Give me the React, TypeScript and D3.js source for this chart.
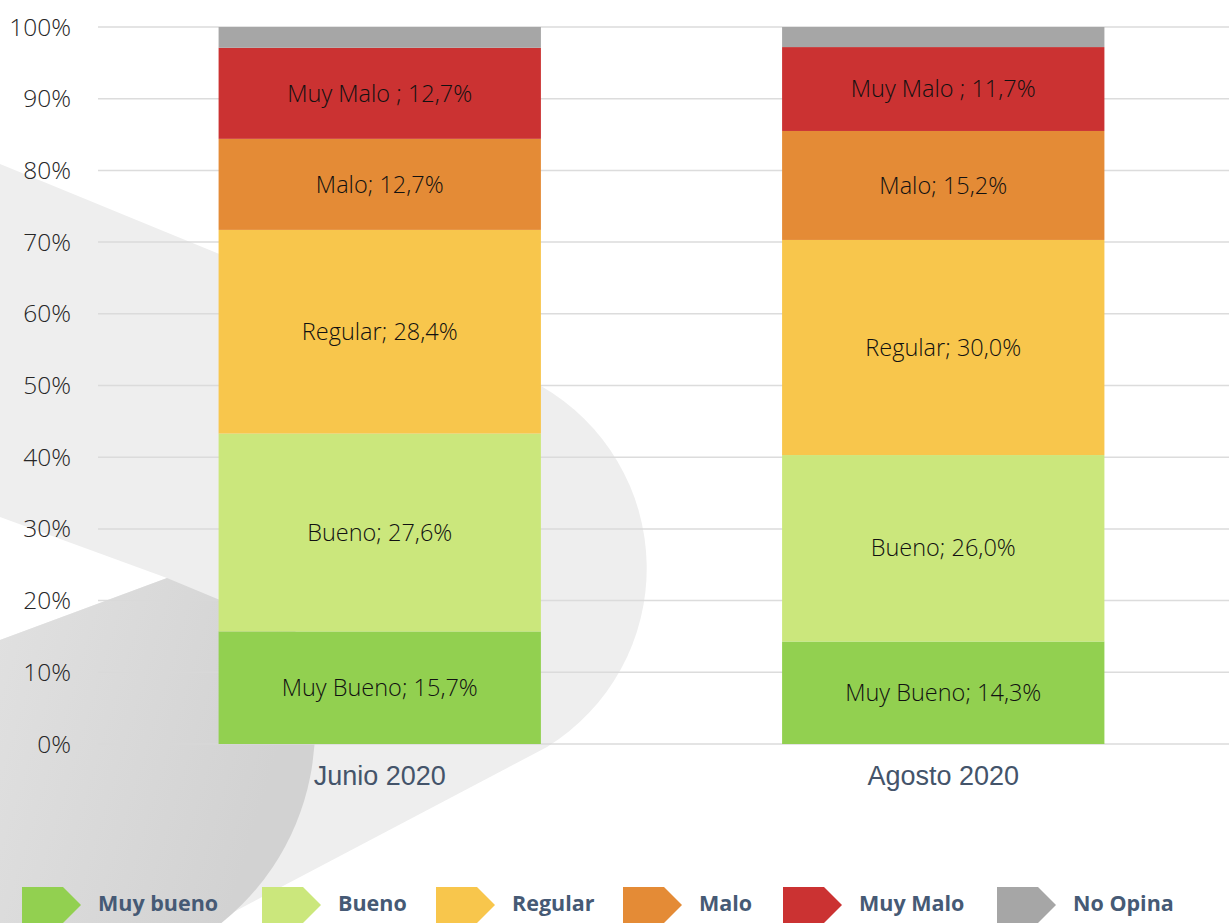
import React from "react";
import * as d3 from "d3";

const categories = ["Junio 2020", "Agosto 2020"];
const seriesKeys = ["muyBueno", "bueno", "regular", "malo", "muyMalo", "noOpina"];
const segmentNames = ["Muy Bueno; ", "Bueno; ", "Regular; ", "Malo; ", "Muy Malo ; ", ""];
const legendLabels = ["Muy bueno", "Bueno", "Regular", "Malo", "Muy Malo", "No Opina"];
const muyBueno = [15.7, 14.3];
const bueno = [27.6, 26.0];
const regular = [28.4, 30.0];
const malo = [12.7, 15.2];
const muyMalo = [12.7, 11.7];
const noOpina = [2.9, 2.8];
const yTicks = [0, 10, 20, 30, 40, 50, 60, 70, 80, 90, 100];

const colors = ["#92d050", "#cbe77c", "#f8c64c", "#e48b36", "#cb3232", "#a6a6a6"];
const legendX = [22, 262, 436, 623, 783, 997];

const W = 1229;
const H = 923;

export default function App() {
  const rows = categories.map((c, i) => ({
    cat: c,
    muyBueno: muyBueno[i],
    bueno: bueno[i],
    regular: regular[i],
    malo: malo[i],
    muyMalo: muyMalo[i],
    noOpina: noOpina[i],
  }));
  const stacked = d3.stack<any>().keys(seriesKeys)(rows);

  const x = d3.scaleBand().domain(categories).range([98, 1225]).paddingInner(0.428).paddingOuter(0.214);
  const y = d3.scaleLinear().domain([0, 100]).range([744, 27]);
  const fmt = (v: number) => v.toFixed(1).replace(".", ",") + "%";

  // background watermark shapes
  const light = "M0,164 L541,386 A210,210 0 0 1 547,747 L0,1035 Z";
  const wedge = "M0,517 L167,578 L0,640 Z";
  const darkCx = 65, darkCy = 728, darkR = 250;

  return (
    <svg width={W} height={H} style={{ position: "fixed", left: 0, top: 0, background: "#fff" }}>
      <defs>
        <linearGradient id="dg" x1="0" y1="0" x2="1" y2="0.3">
          <stop offset="0" stopColor="#eaeaea" />
          <stop offset="1" stopColor="#d2d2d2" />
        </linearGradient>
        <clipPath id="dclip">
          <path d="M0,640 L167,578 L420,683 L420,923 L0,923 Z" />
        </clipPath>
      </defs>
      <rect x={0} y={0} width={W} height={H} fill="#fff" />
      <path d={light} fill="#eeeeee" />
      <path d={wedge} fill="#ffffff" />
      <circle cx={darkCx} cy={darkCy} r={darkR} fill="url(#dg)" clipPath="url(#dclip)" />

      {/* gridlines */}
      {yTicks.map((t) => (
        <line key={t} x1={98} x2={1229} y1={y(t)} y2={y(t)} stroke="#d9d9d9" strokeWidth={1.5} opacity={0.9} />
      ))}
      {yTicks.map((t) => (
        <text
          key={"l" + t}
          x={71}
          y={y(t)}
          dy="0.35em"
          textAnchor="end"
          fontFamily="'Open Sans', sans-serif"
          fontWeight={300}
          fontSize={24.5}
          fill="#262626"
        >
          {t + "%"}
        </text>
      ))}

      {/* bars */}
      {stacked.map((s, si) => (
        <g key={s.key}>
          {s.map((d: any, i: number) => {
            const x0 = x(categories[i])!;
            const yTop = y(d[1]);
            const yBot = y(d[0]);
            return (
              <g key={i}>
                <rect x={x0} y={yTop} width={x.bandwidth()} height={yBot - yTop} fill={colors[si]} />
                {segmentNames[si] && (
                  <text
                    x={x0 + x.bandwidth() / 2}
                    y={(yTop + yBot) / 2}
                    dy="0.35em"
                    textAnchor="middle"
                    fontFamily="'Open Sans', sans-serif"
                    fontWeight={300}
                    fontSize={23.5}
                    fill="#111"
                  >
                    {segmentNames[si] + fmt(d[1] - d[0])}
                  </text>
                )}
              </g>
            );
          })}
        </g>
      ))}

      {/* category labels */}
      {categories.map((c) => (
        <text
          key={c}
          x={x(c)! + x.bandwidth() / 2}
          y={776}
          dy="0.35em"
          textAnchor="middle"
          fontFamily="'Liberation Sans', Arial, sans-serif"
          fontSize={27}
          fill="#44546a"
        >
          {c}
        </text>
      ))}

      {/* legend */}
      {legendLabels.map((l, i) => {
        const lx = legendX[i];
        const top = 887, mid = 905, bot = 923;
        const p = `M${lx},${top} L${lx + 41},${top} L${lx + 59},${mid} L${lx + 41},${bot} L${lx},${bot} Z`;
        return (
          <g key={l}>
            <path d={p} fill={colors[i]} />
            <text
              x={lx + 76}
              y={mid - 2}
              dy="0.35em"
              fontFamily="'Open Sans', sans-serif"
              fontWeight={700}
              fontSize={21.5}
              fill="#465a75"
            >
              {l}
            </text>
          </g>
        );
      })}
    </svg>
  );
}
